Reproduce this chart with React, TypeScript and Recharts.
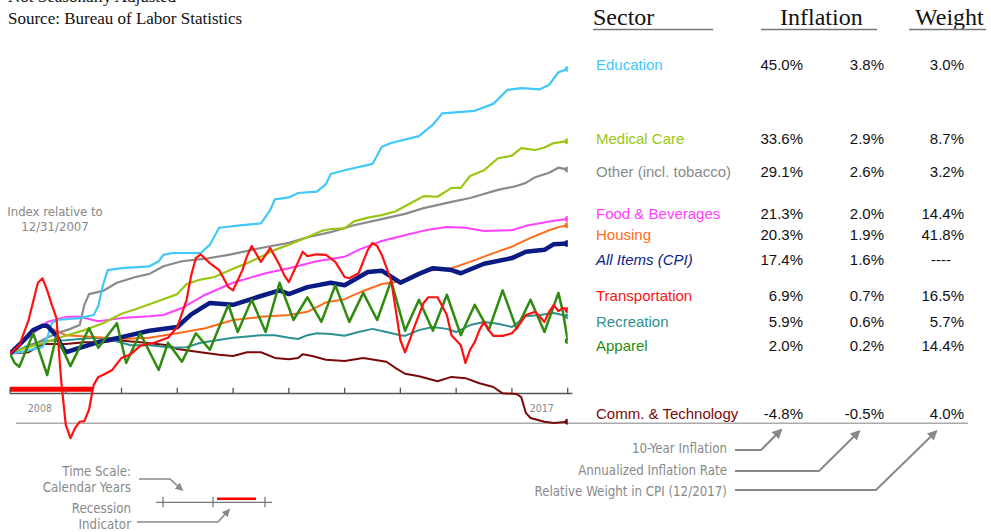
import React from 'react';
import { LineChart, Line, XAxis, YAxis, ReferenceLine } from 'recharts';

type Pt = [number, number];

// ---- series: [month since 12/2007, % change vs 12/31/2007] ----
const education: Pt[] = [[0,0],[3,0.3],[6,0.9],[7,1.0],[8,2.5],[9,4.8],[10,5.3],[15,5.6],[18,6.1],[19,7.5],[20,10.8],[21,13.2],[24,13.5],[30,13.8],[32,14.6],[33,15.6],[35,15.9],[41,15.9],[43,17.2],[45,19.9],[50,20.3],[54,20.6],[56,22.7],[57,24.4],[60,24.7],[62,25.4],[66,25.6],[68,26.8],[69,28.4],[72,29.0],[78,30.0],[80,32.7],[82,33.3],[88,34.4],[91,36.2],[93,38.0],[100,38.4],[104,39.5],[107,41.7],[110,42.0],[114,41.8],[116,42.5],[118,44.5],[120,45.0]];
const medical: Pt[] = [[0,0],[3,0.8],[6,1.4],[9,2.1],[12,2.8],[16,3.7],[20,4.8],[24,6.3],[27,7.0],[30,7.8],[33,8.6],[36,9.4],[38,11.0],[41,11.7],[44,12.1],[48,13.4],[51,14.3],[54,15.3],[57,16.4],[60,17.2],[64,18.4],[67,19.4],[69,19.7],[72,19.8],[74,20.9],[77,21.5],[80,21.9],[83,22.5],[86,23.7],[89,24.9],[92,24.8],[95,26.2],[97,26.2],[99,28.1],[102,29.0],[105,30.9],[108,31.3],[110,32.5],[113,32.2],[115,32.6],[117,33.3],[120,33.6]];
const other: Pt[] = [[0,0],[3,0.8],[6,1.8],[10,3.2],[13,3.9],[15,4.5],[16,7.7],[17,9.4],[20,9.9],[23,11.2],[27,12.1],[30,12.6],[33,13.8],[37,14.6],[42,15.0],[47,15.6],[54,16.7],[60,17.5],[64,18.4],[69,19.2],[74,20.3],[79,21.1],[85,22.1],[89,23.0],[95,24.0],[99,24.6],[105,25.9],[109,26.5],[111,27.0],[113,27.9],[116,28.6],[118,29.4],[120,29.1]];
const food: Pt[] = [[0,0],[3,2.1],[6,3.8],[8,5.0],[12,5.8],[15,5.8],[19,5.1],[24,5.6],[30,5.9],[33,6.1],[37,7.2],[42,9.3],[48,11.2],[55,12.7],[60,13.5],[66,14.6],[72,15.3],[75,16.4],[80,17.8],[86,18.9],[90,19.6],[94,20.0],[98,19.9],[102,19.4],[108,19.5],[111,20.2],[117,21.0],[120,21.3]];
const housing: Pt[] = [[0,0],[3,2.2],[5,3.8],[7,4.4],[9,3.9],[12,2.9],[18,2.6],[24,2.3],[30,2.5],[36,3.2],[42,4.0],[48,5.3],[54,5.8],[60,6.1],[64,6.6],[68,8.1],[72,8.6],[76,9.9],[80,11.0],[83,11.3],[86,11.9],[90,13.1],[95,13.5],[99,14.5],[103,15.6],[106,16.4],[108,16.9],[112,18.3],[116,19.5],[118,20.0],[120,20.3]];
const allItems: Pt[] = [[0,0],[3,2.1],[5,3.7],[7,4.4],[8,4.4],[9,3.6],[10,2.8],[11,1.3],[12,0.2],[15,0.9],[19,1.8],[24,2.6],[30,3.6],[36,4.2],[39,6.2],[43,8.0],[48,7.7],[54,9.1],[58,10.0],[60,9.4],[64,10.5],[69,11.2],[72,10.8],[77,12.9],[80,13.1],[84,11.2],[88,12.6],[91,13.5],[95,13.2],[97,12.7],[102,14.2],[108,15.1],[111,16.1],[115,16.4],[117,17.3],[120,17.4]];
const transportation: Pt[] = [[0,0],[2,1.3],[4,5.3],[6,11.2],[7,11.9],[8,10.0],[9,7.7],[10,5.6],[11,-4.2],[12,-11.3],[13,-13.4],[14,-11.8],[15,-10.8],[16,-10.7],[17,-8.9],[18,-5.0],[19,-3.7],[20,-3.4],[22,-2.6],[24,-0.7],[26,-0.1],[28,1.2],[31,1.7],[34,2.5],[36,4.2],[38,8.5],[39,12.4],[40,15.1],[41,15.7],[43,14.3],[45,13.2],[47,10.5],[48,10.0],[50,13.2],[51,15.4],[52,17.0],[54,14.5],[56,16.7],[58,14.0],[59,12.4],[60,11.3],[61,12.9],[62,14.5],[63,16.1],[64,15.4],[66,15.7],[68,15.6],[70,14.5],[72,12.1],[73,11.9],[75,12.7],[77,16.4],[78,17.5],[79,17.0],[80,15.6],[82,11.6],[83,6.9],[84,2.1],[85,0.2],[86,2.1],[87,4.2],[88,6.1],[89,8.0],[90,8.9],[92,8.9],[94,6.1],[95,2.9],[97,1.3],[98,-1.5],[99,0.6],[100,1.8],[101,3.7],[102,5.0],[103,3.7],[104,2.8],[106,2.8],[108,3.2],[109,4.0],[110,5.0],[111,6.1],[113,6.6],[114,5.8],[115,5.0],[116,6.6],[117,7.7],[118,6.7],[119,7.2],[120,6.9]];
const recreation: Pt[] = [[0,0],[4,1.3],[7,2.0],[12,2.1],[18,2.5],[22,2.1],[26,1.3],[30,1.3],[35,0.9],[38,1.0],[41,1.7],[48,2.5],[54,2.9],[57,2.9],[60,2.5],[62,2.3],[64,2.9],[66,3.2],[69,3.1],[72,2.8],[75,3.4],[78,3.9],[81,3.4],[84,2.9],[85,2.8],[88,3.7],[91,4.2],[94,3.9],[96,3.4],[99,4.5],[102,5.0],[105,4.7],[108,4.2],[111,5.9],[114,6.1],[117,6.4],[120,5.9]];
const apparel: Pt[] = [[0,0],[1,-1.5],[2,-2.1],[5,3.2],[8,-3.4],[10,2.8],[13,-2.0],[17,4.0],[19,0.9],[23,4.8],[25,-1.5],[28,3.2],[32,-2.6],[34,1.7],[37,-1.3],[40,3.2],[43,0.6],[47,7.7],[49,3.4],[52,8.5],[55,3.4],[58,11.2],[61,5.3],[64,8.9],[67,5.0],[70,10.8],[73,5.0],[76,9.6],[79,5.3],[82,11.5],[85,3.6],[88,8.5],[91,3.6],[94,9.3],[97,2.9],[100,7.7],[103,3.7],[106,10.0],[109,3.9],[112,8.5],[115,3.4],[118,9.6],[119,6.5],[120,2.0]];
const commTech: Pt[] = [[0,0],[4,0.2],[7,1.5],[12,1.5],[16,1.8],[20,1.8],[23,2.1],[28,1.8],[34,1.3],[36,0.7],[41,0.2],[45,-0.2],[48,-0.4],[51,0.2],[54,0.2],[57,-0.7],[60,-0.9],[62,-0.7],[63,-0.1],[65,-0.4],[68,-1.0],[72,-1.2],[76,-0.7],[81,-1.3],[83,-2.3],[85,-3.2],[88,-3.6],[91,-4.2],[92,-4.4],[95,-3.7],[98,-3.9],[101,-4.7],[104,-5.3],[106,-6.3],[109,-6.4],[110,-6.9],[111,-9.4],[112,-10.2],[115,-10.8],[117,-11.0],[120,-10.8]];

// ---- table ----
const sectors = ['Education','Medical Care','Other (incl. tobacco)','Food & Beverages','Housing','All Items (CPI)','Transportation','Recreation','Apparel','Comm. & Technology'];
const inflation10 = ['45.0%','33.6%','29.1%','21.3%','20.3%','17.4%','6.9%','5.9%','2.0%','-4.8%'];
const annualized = ['3.8%','2.9%','2.6%','2.0%','1.9%','1.6%','0.7%','0.6%','0.2%','-0.5%'];
const weights = ['3.0%','8.7%','3.2%','14.4%','41.8%','----','16.5%','5.7%','14.4%','4.0%'];
const yearTicks = [0,12,24,36,48,60,72,84,96,108,120];
const yearLabels = [{ m: 6, t: '2008' }, { m: 114, t: '2017' }];
const recession: [number, number] = [0, 17.7];

const COLORS = ['#40C8F8','#99C711','#8A8A8A','#FF40FF','#FF6B1A','#0B1B84','#FF1010','#2F9090','#2E8B0E','#7A0A0A'];
const seriesData = [education, medical, other, food, housing, allItems, transportation, recreation, apparel, commTech];
const WIDTHS = [2.2, 2.2, 2.2, 2, 2, 4.5, 2.2, 2, 2.5, 2];
const DRAW_ORDER = [9, 7, 4, 3, 2, 1, 0, 5, 8, 6];

const ROW_Y = [64, 138, 171, 213, 234, 259, 295, 321, 345, 413];
const AXIS_Y = -6.33;

const W = 991, H = 532;
const PLOT_L = 10, PLOT_R = 567.7;
const mx = (m: number) => PLOT_L + (m / 120) * (PLOT_R - PLOT_L);

const gray = '#888888';
const annFont = "'DejaVu Sans Condensed', 'DejaVu Sans', sans-serif";
const tblFont = "'Liberation Sans', Arial, sans-serif";
const serif = "'Liberation Serif', 'Times New Roman', serif";

const endDot = (color: string, r: number, n: number) => (props: any) => {
  const { cx, cy, index } = props;
  if (index !== n - 1) return <g key={`e${index}`} />;
  return <circle key={`e${index}`} cx={cx} cy={cy} r={r} fill={color} stroke="none" />;
};

export default function App() {
  return (
    <div style={{ position: 'absolute', left: 0, top: 0, width: W, height: H, background: '#fff', overflow: 'hidden' }}>
      <svg width={W} height={H} style={{ position: 'absolute', left: 0, top: 0 }}>
        <defs>
          <marker id="ah" viewBox="0 0 10 10" refX="8" refY="5" markerWidth="5" markerHeight="5" orient="auto-start-reverse">
            <path d="M0,0 L10,5 L0,10 z" fill={gray} />
          </marker>
        </defs>
        {/* title */}
        <text x={8} y={2} fontFamily={serif} fontSize={17} fill="#111">Not Seasonally Adjusted</text>
        <text x={8} y={24} fontFamily={serif} fontSize={17} fill="#111">Source: Bureau of Labor Statistics</text>
        {/* headers */}
        <text x={593} y={25} fontFamily={serif} fontSize={24} fill="#111">Sector</text>
        <text x={780} y={25} fontFamily={serif} fontSize={24} fill="#111">Inflation</text>
        <text x={915} y={25} fontFamily={serif} fontSize={24} fill="#111">Weight</text>
        <line x1={593} x2={713} y1={29.5} y2={29.5} stroke="#777" strokeWidth={1.3} />
        <line x1={761} x2={877} y1={29.5} y2={29.5} stroke="#777" strokeWidth={1.3} />
        <line x1={909} x2={986} y1={29.5} y2={29.5} stroke="#777" strokeWidth={1.3} />
        {/* table rows */}
        {sectors.map((s, i) => (
          <g key={s} fontFamily={tblFont} fontSize={15} dominantBaseline="central">
            <text x={596} y={ROW_Y[i]} fill={COLORS[i]} fontStyle={i === 5 ? 'italic' : 'normal'}>{s}</text>
            <text x={803} y={ROW_Y[i]} textAnchor="end" fill="#111">{inflation10[i]}</text>
            <text x={884} y={ROW_Y[i]} textAnchor="end" fill="#111">{annualized[i]}</text>
            <text x={weights[i] === '----' ? 951 : 964} y={ROW_Y[i]} textAnchor="end" fill="#111">{weights[i]}</text>
          </g>
        ))}
        {/* separator line */}
        <line x1={16} x2={968} y1={423.3} y2={423.3} stroke="#aaaaaa" strokeWidth={1.5} />
        {/* index label */}
        <text x={55} y={211} textAnchor="middle" dominantBaseline="central" fontFamily={annFont} fontSize={13} fill={gray}>Index relative to</text>
        <text x={55} y={226.5} textAnchor="middle" dominantBaseline="central" fontFamily={annFont} fontSize={13} fill={gray}>12/31/2007</text>
        {/* year labels */}
        {yearLabels.map((y) => (
          <text key={y.t} x={mx(y.m) + 2} y={408} textAnchor="middle" dominantBaseline="central" fontFamily={annFont} fontSize={10.5} fill={gray}>{y.t}</text>
        ))}
        {/* bottom-right notes */}
        <g fontFamily={annFont} fontSize={13.2} fill={gray} textAnchor="end" dominantBaseline="central">
          <text x={727} y={448}>10-Year Inflation</text>
          <text x={727} y={470}>Annualized Inflation Rate</text>
          <text x={727} y={491}>Relative Weight in CPI (12/2017)</text>
        </g>
        <g fill="none" stroke={gray} strokeWidth={2}>
          <polyline points="735,450 761,450 781,430" markerEnd="url(#ah)" />
          <polyline points="735,471 819,471 859,431.5" markerEnd="url(#ah)" />
          <polyline points="735,490 876,490 936,431.5" markerEnd="url(#ah)" />
        </g>
        {/* time scale legend */}
        <g fontFamily={annFont} fontSize={13.2} fill={gray} textAnchor="end" dominantBaseline="central">
          <text x={131} y={471}>Time Scale:</text>
          <text x={131} y={487}>Calendar Years</text>
          <text x={131} y={508}>Recession</text>
          <text x={131} y={524}>Indicator</text>
        </g>
        <g fill="none" stroke={gray} strokeWidth={1.6}>
          <polyline points="139,479 170,479 182,490" markerEnd="url(#ah)" />
          <polyline points="137,522 218,522 229,510" markerEnd="url(#ah)" />
          <line x1={156} x2={272} y1={502.3} y2={502.3} stroke="#777" strokeWidth={1.3} />
          <line x1={163} x2={163} y1={496.7} y2={507.3} stroke="#777" strokeWidth={1.3} />
          <line x1={213} x2={213} y1={496.7} y2={507.3} stroke="#777" strokeWidth={1.3} />
          <line x1={265} x2={265} y1={496.7} y2={507.3} stroke="#777" strokeWidth={1.3} />
        </g>
        <line x1={217} x2={256} y1={498.8} y2={498.8} stroke="#FF0000" strokeWidth={2.5} />
      </svg>

      <div style={{ position: 'absolute', left: 0, top: 0 }}>
        <LineChart width={W} height={H} margin={{ top: 37.5, right: W - PLOT_R, bottom: 90, left: PLOT_L }}>
          <XAxis type="number" dataKey="m" domain={[0, 120]} hide allowDataOverflow />
          <YAxis type="number" domain={[-14, 50]} hide allowDataOverflow />
          <ReferenceLine segment={[{ x: recession[0], y: -5.66 }, { x: recession[1], y: -5.66 }]} stroke="#FF0000" strokeWidth={5} ifOverflow="visible" />
          <ReferenceLine segment={[{ x: 0, y: AXIS_Y }, { x: 121, y: AXIS_Y }]} stroke="#555" strokeWidth={1.5} ifOverflow="visible" />
          {yearTicks.map((m) => (
            <ReferenceLine key={`t${m}`} segment={[{ x: m, y: AXIS_Y }, { x: m, y: AXIS_Y + 0.92 }]} stroke="#555" strokeWidth={1.3} ifOverflow="visible" />
          ))}
          {DRAW_ORDER.map((i) => (
            <Line
              key={sectors[i]}
              data={seriesData[i].map(([m, v]) => ({ m, v }))}
              dataKey="v"
              type="linear"
              stroke={COLORS[i]}
              strokeWidth={WIDTHS[i]}
              dot={endDot(COLORS[i], i === 5 ? 3.5 : 3, seriesData[i].length)}
              activeDot={false}
              isAnimationActive={false}
              strokeLinejoin="round"
            />
          ))}
        </LineChart>
      </div>
    </div>
  );
}
